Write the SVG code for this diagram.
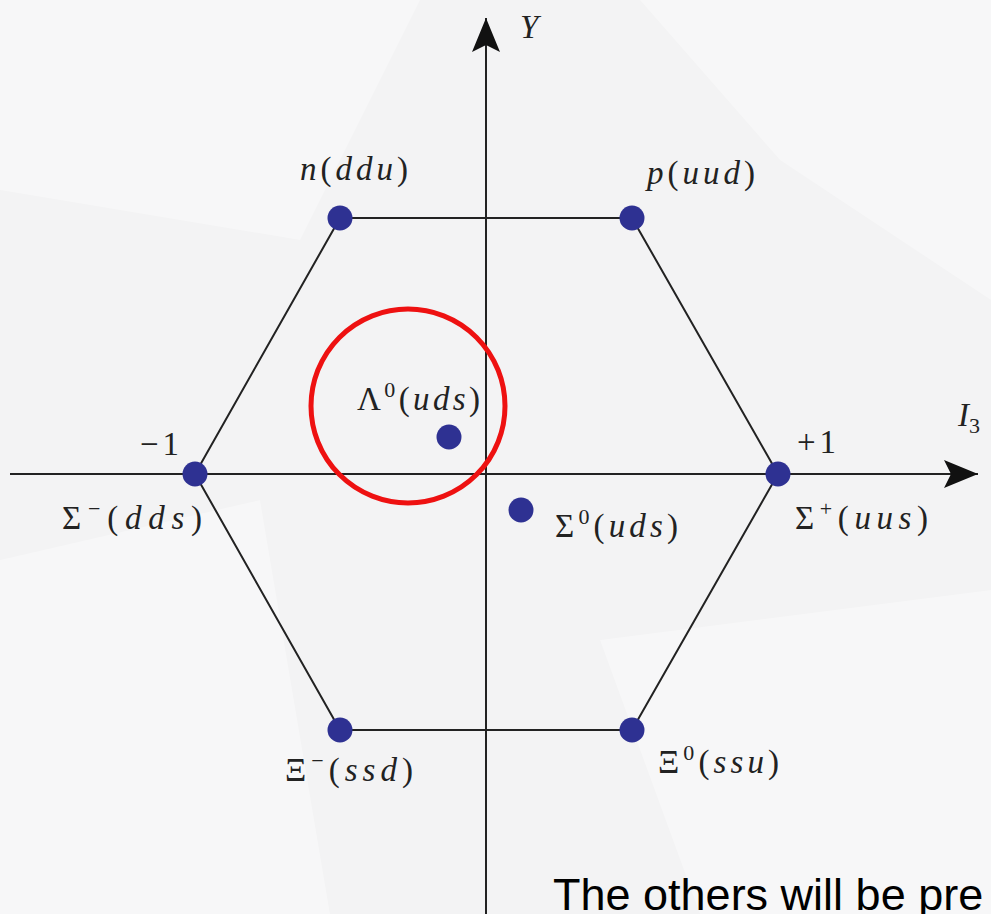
<svg xmlns="http://www.w3.org/2000/svg" width="991" height="914" viewBox="0 0 991 914">
<style>
.m{font-family:"Liberation Serif","DejaVu Serif",serif;font-size:33px;fill:#222}
.i{font-style:italic}
.sup{font-size:22px}
.ax{stroke:#222;stroke-width:2;fill:none}
.hx{stroke:#222;stroke-width:2;fill:none}
.dot{fill:#2e3192}
</style>
<defs>
<marker id="ah" markerWidth="36" markerHeight="28" refX="34" refY="14" orient="auto" markerUnits="userSpaceOnUse">
<path d="M0,0 L34,14 L0,28 L7,14 Z" fill="#111"/>
</marker>
</defs>
<rect width="991" height="914" fill="#f3f3f4"/>
<g id="bg" fill="#ffffff" opacity="0.35">
<polygon points="0,0 420,0 300,240 0,190"/>
<polygon points="640,0 991,0 991,300 780,160"/>
<polygon points="0,560 260,500 330,914 0,914"/>
<polygon points="600,640 991,590 991,914 700,914"/>
</g>
<g id="connectors">
<line class="ax" x1="10" y1="474" x2="978" y2="474" marker-end="url(#ah)"/>
<line class="ax" x1="486" y1="914" x2="486" y2="18" marker-end="url(#ah)"/>
<polygon class="hx" points="340,218 632,218 778,474 632,730 340,730 195,474"/>
</g>
<g id="n"><circle class="dot" cx="340" cy="218" r="12.5"/><text class="m" x="300" y="180" textLength="108"><tspan class="i">n</tspan>(<tspan class="i">ddu</tspan>)</text></g>
<g id="p"><circle class="dot" cx="632" cy="218" r="12.5"/><text class="m" x="647" y="184" textLength="108"><tspan class="i">p</tspan>(<tspan class="i">uud</tspan>)</text></g>
<g id="lambda"><circle class="dot" cx="449" cy="437" r="12.5"/><text class="m" x="357" y="410" textLength="123">Λ<tspan class="sup" dy="-13">0</tspan><tspan dy="13">(</tspan><tspan class="i">uds</tspan>)</text></g>
<g id="sigma0"><circle class="dot" cx="521" cy="510" r="12.5"/><text class="m" x="555" y="537" textLength="123">Σ<tspan class="sup" dy="-13">0</tspan><tspan dy="13">(</tspan><tspan class="i">uds</tspan>)</text></g>
<g id="sigmaminus"><circle class="dot" cx="195" cy="474" r="12.5"/><text class="m" x="62" y="529" textLength="140">Σ<tspan class="sup" dy="-13">−</tspan><tspan dy="13">(</tspan><tspan class="i">dds</tspan>)</text><text class="m" x="140" y="455" letter-spacing="4">−1</text></g>
<g id="sigmaplus"><circle class="dot" cx="778" cy="474" r="12.5"/><text class="m" x="795" y="529" textLength="133">Σ<tspan class="sup" dy="-13">+</tspan><tspan dy="13">(</tspan><tspan class="i">uus</tspan>)</text><text class="m" x="797" y="453" letter-spacing="4">+1</text></g>
<g id="ximinus"><circle class="dot" cx="340" cy="730" r="12.5"/><text class="m" x="285" y="781" textLength="128">Ξ<tspan class="sup" dy="-13">−</tspan><tspan dy="13">(</tspan><tspan class="i">ssd</tspan>)</text></g>
<g id="xi0"><circle class="dot" cx="632" cy="730" r="12.5"/><text class="m" x="658" y="773" textLength="121">Ξ<tspan class="sup" dy="-13">0</tspan><tspan dy="13">(</tspan><tspan class="i">ssu</tspan>)</text></g>
<g id="labels">
<text class="m i" x="520" y="38">Y</text>
<text class="m" x="958" y="426"><tspan class="i">I</tspan><tspan class="sup" dy="7">3</tspan></text>
</g>
<circle id="highlight" cx="408" cy="406" r="97" fill="none" stroke="#ee1111" stroke-width="5"/>
<text x="553" y="910" font-family="Liberation Sans, Arial, sans-serif" font-size="45" fill="#000">The others will be pre</text>
</svg>
